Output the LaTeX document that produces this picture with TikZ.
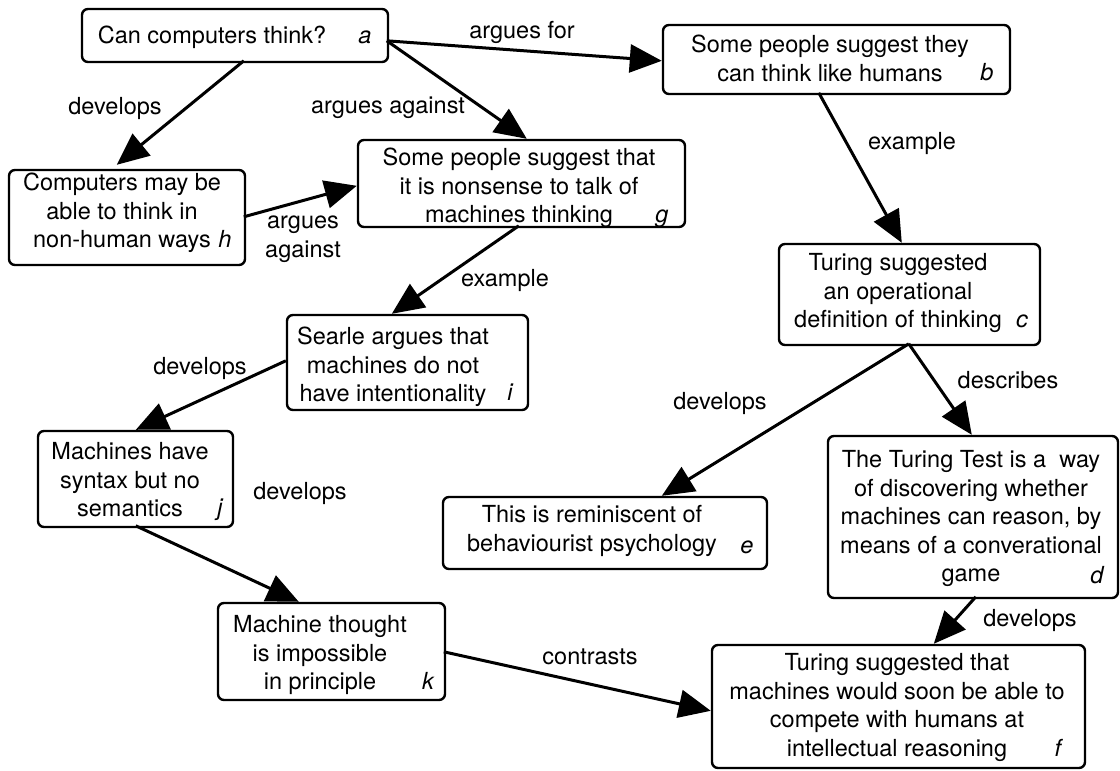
\documentclass[tikz,border=0pt]{standalone}
\usepackage{fontspec}
\setmainfont{TeX Gyre Heros}
\usetikzlibrary{arrows.meta}
\tikzset{
  box/.style={draw, rounded corners=3pt, line width=1.2pt, inner sep=0pt, fill=white},
  txt/.style={inner sep=0pt, align=center, anchor=north, font=\fontsize{11.75}{14.3}\selectfont},
  lett/.style={inner sep=0pt, anchor=base, font=\fontsize{11.75}{14.3}\selectfont\itshape},
  lab/.style={inner sep=0pt, align=center, font=\fontsize{11.75}{14.3}\selectfont},
  arr/.style={line width=1.5pt, -{Triangle[length=16pt,width=14pt]}}
}
\begin{document}
\begin{tikzpicture}[x=0.5pt,y=-0.5pt]
\useasboundingbox (0,0) rectangle (1120,771);
% boxes
\node[box, minimum width=153pt, minimum height=26.5pt] (a) at (235,35.5) {};
\node[box, minimum width=173.5pt, minimum height=34.5pt] (b) at (836.5,59.5) {};
\node[box, minimum width=163.5pt, minimum height=43.5pt] (g) at (521.5,183.5) {};
\node[box, minimum width=118pt, minimum height=47.5pt] (h) at (127,217.5) {};
\node[box, minimum width=120.5pt, minimum height=47.5pt] (i) at (407.5,362.5) {};
\node[box, minimum width=130.5pt, minimum height=50.5pt] (c) at (909.5,294.5) {};
\node[box, minimum width=162pt, minimum height=36pt] (e) at (605,533) {};
\node[box, minimum width=145pt, minimum height=81pt] (d) at (973,517) {};
\node[box, minimum width=186.5pt, minimum height=61.5pt] (f) at (898.5,706.5) {};
\node[box, minimum width=97.5pt, minimum height=48pt] (j) at (135.5,479) {};
\node[box, minimum width=113.5pt, minimum height=48.5pt] (k) at (331.5,651.5) {};
% texts
\node[txt] (ta) at (212,23) {\strut Can computers think?};
\node[txt] (tb) at (830,32) {\strut Some people suggest they\\can think like humans};
\node[txt] (tg) at (519,145) {\strut Some people suggest that\\it is nonsense to talk of\\machines thinking};
\node[txt] (th) at (122,170) {\strut Computers may be\\able to think in\\non-human ways};
\node[txt] (ti) at (393,324) {\strut Searle argues that\\machines do not\\have intentionality};
\node[txt] (tc) at (898,250) {\strut Turing suggested\\an operational\\definition of thinking};
\node[txt] (tj) at (130,439) {\strut Machines have\\syntax but no\\semantics};
\node[txt] (te) at (592,502) {\strut This is reminiscent of\\behaviourist psychology};
\node[txt] (td) at (971,447) {\strut The Turing Test is a\ \ way\\of discovering whether\\machines can reason, by\\means of a converational\\game};
\node[txt] (tf) at (897,650) {\strut Turing suggested that\\machines would soon be able to\\compete with humans at\\intellectual reasoning};
\node[txt] (tk) at (320,612) {\strut Machine thought\\is impossible\\in principle};
% letters
\node[lett] (la) at (365,43) {a};
\node[lett] (lb) at (987,80) {b};
\node[lett] (lg) at (662,222) {g};
\node[lett] (lh) at (225,247) {h};
\node[lett] (li) at (510,400) {i};
\node[lett] (lc) at (1022,327) {c};
\node[lett] (lj) at (220,515) {j};
\node[lett] (le) at (747,553) {e};
\node[lett] (ld) at (1097,583) {d};
\node[lett] (lf) at (1058,756) {f};
\node[lett] (lk) at (428,689) {k};
% connectors
\draw[arr] ([shift={(306,33)}]a.north west) -- ([shift={(0,37)}]b.north west);
\draw[arr] ([shift={(306,33)}]a.north west) -- ([shift={(170,0)}]g.north west);
\draw[arr] ([shift={(163,53)}]a.north west) -- ([shift={(109,-4)}]h.north west);
\draw[arr] ([shift={(236,48)}]h.north west) -- ([shift={(0,47)}]g.north west);
\draw[arr] ([shift={(162,87)}]g.north west) -- ([shift={(106,0)}]i.north west);
\draw[arr] ([shift={(0,47)}]i.north west) -- ([shift={(99,0)}]j.north west);
\draw[arr] ([shift={(99,96)}]j.north west) -- ([shift={(82,0)}]k.north west);
\draw[arr] ([shift={(227,50)}]k.north west) -- ([shift={(0,67)}]f.north west);
\draw[arr] ([shift={(157,69)}]b.north west) -- ([shift={(124,0)}]c.north west);
\draw[arr] ([shift={(131,101)}]c.north west) -- ([shift={(220,0)}]e.north west);
\draw[arr] ([shift={(131,101)}]c.north west) -- ([shift={(145,0)}]d.north west);
\draw[arr] ([shift={(149,162)}]d.north west) -- ([shift={(223,0)}]f.north west);
% labels
\node[lab] (l1) at (115,108) {develops};
\node[lab] (l2) at (522,32) {argues for};
\node[lab] (l3) at (388,108) {argues against};
\node[lab] (l4) at (303,239) {argues\\against};
\node[lab] (l5) at (505,280) {example};
\node[lab] (l6) at (200,368) {develops};
\node[lab] (l7) at (300,493) {develops};
\node[lab] (l8) at (590,657) {contrasts};
\node[lab] (l9) at (912,143) {example};
\node[lab] (l10) at (720,403) {develops};
\node[lab] (l11) at (1008,380) {describes};
\node[lab] (l12) at (1030,620) {develops};
\end{tikzpicture}
\end{document}
